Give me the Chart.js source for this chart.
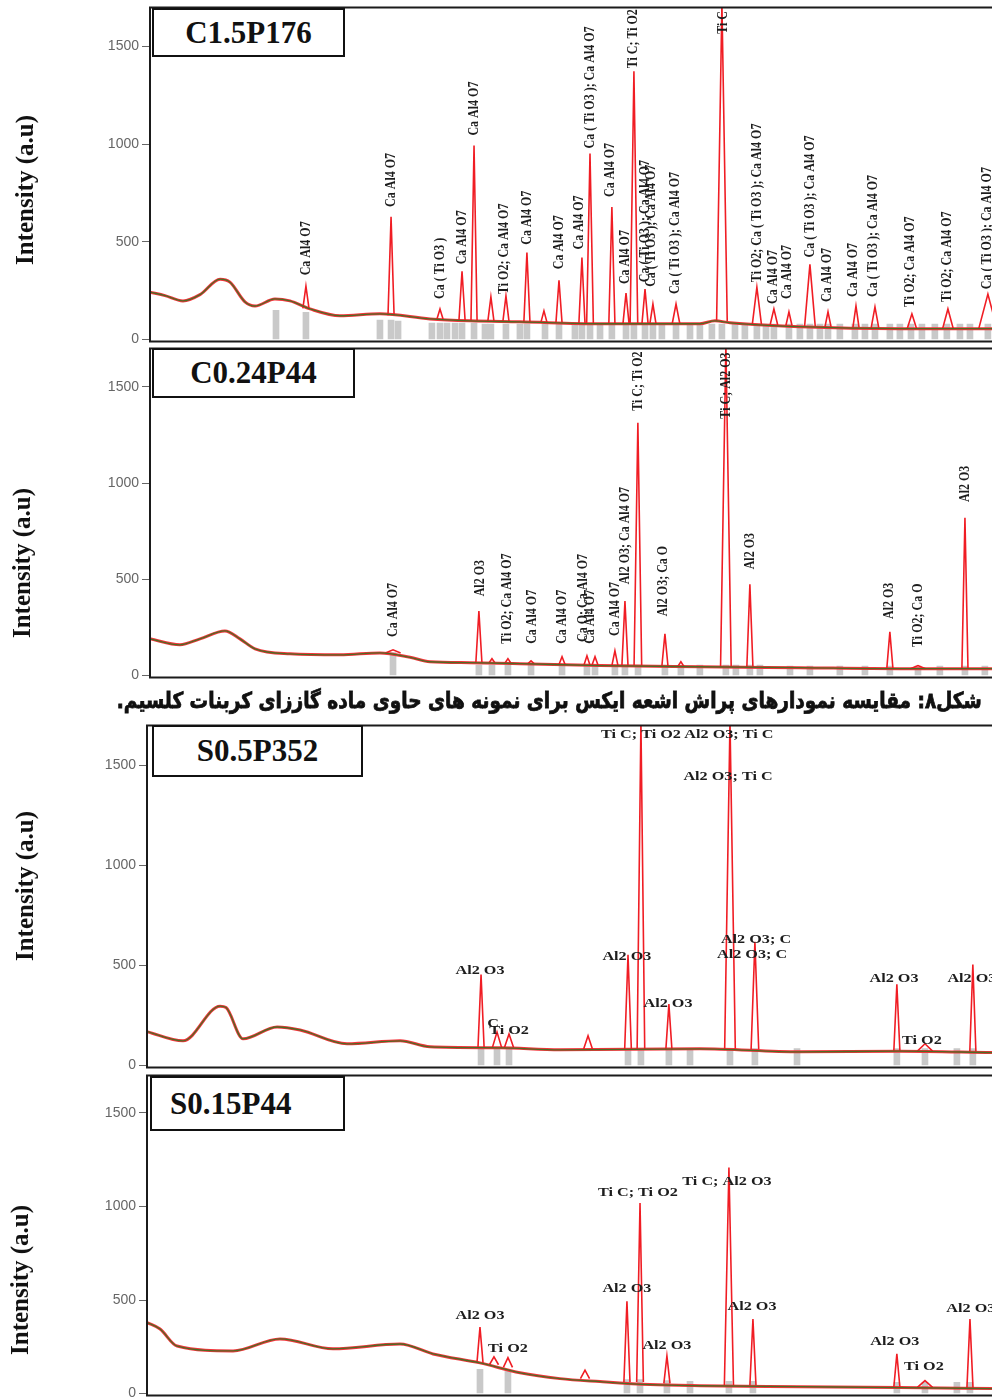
<!DOCTYPE html>
<html>
<head>
<meta charset="utf-8">
<script src="https://cdn.jsdelivr.net/npm/chart.js@4.4.1/dist/chart.umd.min.js"></script>
<style>
  body { margin: 0; background: #fff; width: 992px; height: 1397px; overflow: hidden; position: relative; }
  canvas { position: absolute; left: 0; }
  .yt { position: absolute; font: bold 25px "Liberation Serif"; color: #111; white-space: nowrap;
        transform: translate(-50%, -50%) rotate(-90deg); }
  .box { position: absolute; box-sizing: border-box; border: 2px solid #111; background: #fff;
         font: bold 31px "Liberation Serif"; color: #111; text-align: center; z-index: 2; }
  #cap { position: absolute; right: 10px; top: 688px; direction: rtl; white-space: nowrap;
         font: bold 22px "DejaVu Sans"; color: #111; -webkit-text-stroke: 0.8px #111;
         transform-origin: right center; }
</style>
</head>
<body>
<canvas id="p1" width="992" height="355" style="top:-4px"></canvas>
<canvas id="p2" width="992" height="350" style="top:337px"></canvas>
<canvas id="p3" width="992" height="363" style="top:714px"></canvas>
<canvas id="p4" width="992" height="341" style="top:1064px"></canvas>
<div id="cap">شکل۸: مقایسه نمودارهای پراش اشعه ایکس برای نمونه های حاوی ماده گاززای کربنات کلسیم.</div>
<script>
const yTicks = [0, 500, 1000, 1500];
const yMax = 1700;
const xMax = 59.0;
const panelTitles = ["C1.5P176", "C0.24P44", "S0.5P352", "S0.15P44"];
const yTitle = "Intensity (a.u)";

// C1.5P176
const p1BgX = [3.60, 4.59, 5.77, 6.89, 8.21, 8.86, 9.85, 10.51, 11.82, 12.81, 14.13, 16.10, 18.73, 22.02, 24.65, 27.94, 33.21, 39.78, 40.77, 41.76, 46.36, 52.94, 59.00];
const p1BgY = [243, 225, 198, 230, 309, 294, 193, 172, 208, 198, 157, 122, 132, 106, 96, 91, 81, 81, 96, 86, 66, 56, 56];
const p1PeakX = [13.86, 19.46, 22.68, 24.13, 24.92, 26.03, 27.02, 28.40, 29.52, 30.51, 32.02, 32.55, 33.99, 34.92, 35.44, 36.17, 36.69, 38.21, 41.23, 43.53, 44.65, 45.64, 47.02, 48.21, 50.05, 51.30, 53.73, 56.10, 58.73];
const p1PeakY = [274, 628, 157, 350, 993, 218, 223, 446, 147, 304, 420, 952, 679, 238, 1373, 258, 182, 182, 1720, 268, 157, 142, 385, 142, 172, 167, 132, 157, 233];
const p1PeakBase = [160, 125, 105, 100, 98, 95, 93, 90, 88, 87, 84, 84, 82, 82, 82, 82, 82, 81, 95, 78, 75, 72, 68, 65, 62, 60, 58, 56, 56];
const p1PeakHalf = [0.2, 0.2, 0.2, 0.2, 0.2, 0.2, 0.2, 0.2, 0.2, 0.2, 0.2, 0.22, 0.2, 0.2, 0.25, 0.2, 0.2, 0.25, 0.35, 0.3, 0.25, 0.2, 0.35, 0.2, 0.2, 0.25, 0.3, 0.35, 0.6];
const p1StickX = [11.89, 13.86, 18.73, 19.46, 19.92, 22.15, 22.68, 23.14, 23.67, 24.13, 24.92, 25.64, 26.03, 27.02, 27.94, 28.40, 29.59, 30.51, 31.56, 32.02, 32.55, 33.21, 33.99, 34.92, 35.44, 36.17, 36.69, 37.28, 38.21, 39.13, 39.78, 40.57, 41.23, 42.09, 42.74, 43.53, 44.13, 44.65, 45.64, 46.36, 47.02, 47.68, 48.21, 48.99, 49.98, 50.64, 51.30, 52.28, 52.94, 53.67, 54.39, 55.24, 56.03, 56.89, 57.55, 58.73];
const p1StickY = [150, 140, 100, 100, 95, 85, 85, 85, 85, 85, 85, 80, 80, 80, 80, 80, 80, 80, 80, 80, 80, 80, 80, 80, 80, 80, 80, 80, 80, 80, 80, 80, 80, 80, 80, 80, 80, 80, 80, 80, 80, 80, 80, 80, 80, 80, 80, 80, 80, 80, 80, 80, 80, 80, 80, 80];
const p1LabelX = [13.86, 19.46, 22.68, 24.13, 24.92, 26.89, 28.40, 30.51, 31.82, 32.55, 33.86, 34.85, 35.38, 36.17, 36.56, 38.14, 41.30, 43.53, 44.59, 45.51, 47.02, 48.14, 49.85, 51.17, 53.60, 56.03, 58.67];
const p1LabelY = [329, 679, 208, 385, 1044, 233, 486, 360, 461, 978, 730, 284, 1388, 294, 270, 233, 1565, 294, 182, 208, 420, 193, 218, 218, 167, 193, 258];
const p1LabelText = ["Ca Al4 O7", "Ca Al4 O7", "Ca ( Ti O3 )", "Ca Al4 O7", "Ca Al4 O7", "Ti O2; Ca Al4 O7", "Ca Al4 O7", "Ca Al4 O7", "Ca Al4 O7", "Ca ( Ti O3 ); Ca Al4 O7", "Ca Al4 O7", "Ca Al4 O7", "Ti C; Ti O2", "Ca ( Ti O3 ); Ca Al4 O7", "Ca ( Ti O3 ); Ca Al4 O7", "Ca ( Ti O3 ); Ca Al4 O7", "Ti C", "Ti O2; Ca ( Ti O3 ); Ca Al4 O7", "Ca Al4 O7", "Ca Al4 O7", "Ca ( Ti O3 ); Ca Al4 O7", "Ca Al4 O7", "Ca Al4 O7", "Ca ( Ti O3 ); Ca Al4 O7", "Ti O2; Ca Al4 O7", "Ti O2; Ca Al4 O7", "Ca ( Ti O3 ); Ca Al4 O7"];

// C0.24P44
const p2BgX = [3.60, 5.57, 6.89, 8.53, 9.52, 10.51, 12.81, 16.10, 18.73, 20.71, 22.02, 24.65, 27.94, 33.21, 39.78, 46.36, 52.94, 59.00];
const p2BgY = [191, 160, 191, 232, 191, 139, 113, 108, 118, 95, 72, 67, 62, 52, 46, 41, 36, 36];
const p2PeakX = [19.59, 25.24, 26.10, 27.15, 28.67, 30.71, 32.35, 32.88, 34.19, 34.85, 35.70, 37.48, 38.53, 41.49, 43.07, 52.28, 54.13, 57.22];
const p2PeakY = [134, 335, 88, 88, 77, 98, 103, 98, 129, 387, 1314, 217, 72, 1720, 474, 227, 52, 820];
const p2PeakBase = [118, 67, 66, 64, 62, 58, 54, 54, 52, 52, 52, 50, 48, 46, 45, 38, 36, 36];
const p2PeakHalf = [0.5, 0.2, 0.2, 0.2, 0.2, 0.2, 0.2, 0.2, 0.2, 0.2, 0.25, 0.2, 0.2, 0.35, 0.2, 0.2, 0.5, 0.2];
const p2StickX = [19.59, 25.24, 26.10, 27.15, 28.67, 30.71, 32.35, 32.88, 34.19, 34.85, 35.71, 37.48, 38.53, 39.78, 41.49, 42.15, 43.07, 43.73, 45.71, 47.02, 48.99, 50.64, 52.28, 54.13, 55.57, 57.22, 58.53];
const p2StickY = [120, 55, 55, 55, 55, 55, 55, 55, 55, 55, 55, 55, 55, 55, 55, 55, 55, 55, 50, 50, 50, 50, 50, 50, 50, 50, 50];
const p2LabelX = [19.59, 25.31, 27.09, 28.73, 30.71, 32.09, 32.55, 34.19, 34.85, 35.70, 37.35, 41.49, 43.07, 52.22, 54.13, 57.22];
const p2LabelY = [201, 412, 165, 165, 165, 175, 165, 206, 474, 1376, 309, 1335, 552, 294, 149, 902];
const p2LabelText = ["Ca Al4 O7", "Al2 O3", "Ti O2; Ca Al4 O7", "Ca Al4 O7", "Ca Al4 O7", "Ca O; Ca Al4 O7", "Ca Al4 O7", "Ca Al4 O7", "Al2 O3; Ca Al4 O7", "Ti C; Ti O2", "Al2 O3; Ca O", "Ti C; Al2 O3", "Al2 O3", "Al2 O3", "Ti O2; Ca O", "Al2 O3"];

// S0.5P352
const p3BgX = [3.40, 5.77, 8.21, 8.60, 9.72, 11.96, 13.47, 16.56, 20.05, 22.02, 26.63, 30.57, 39.78, 46.36, 52.94, 59.00];
const p3BgY = [170, 124, 297, 290, 134, 193, 178, 109, 124, 94, 89, 79, 84, 69, 72, 65];
const p3PeakX = [25.38, 26.43, 27.22, 32.42, 35.05, 35.90, 37.74, 41.76, 43.40, 52.74, 54.59, 57.74];
const p3PeakY = [455, 168, 158, 149, 554, 1720, 307, 1720, 619, 406, 109, 505];
const p3PeakBase = [92, 91, 90, 80, 80, 80, 80, 84, 82, 72, 72, 70];
const p3PeakHalf = [0.2, 0.3, 0.3, 0.3, 0.22, 0.25, 0.2, 0.35, 0.25, 0.2, 0.5, 0.2];
const p3StickX = [25.38, 26.43, 27.22, 35.05, 35.90, 37.74, 39.13, 41.76, 43.40, 46.17, 52.74, 54.59, 56.69, 57.74];
const p3StickY = [85, 85, 85, 85, 85, 85, 85, 85, 85, 85, 85, 85, 85, 85];
const p3LabelX = [25.31, 26.17, 27.22, 34.98, 35.90, 41.69, 41.63, 37.68, 43.47, 43.21, 52.55, 54.39, 57.68];
const p3LabelY = [475, 208, 173, 545, 1653, 1653, 1445, 307, 629, 554, 431, 124, 431];
const p3LabelText = ["Al2 O3", "C", "Ti O2", "Al2 O3", "Ti C; Ti O2", "Al2 O3; Ti C", "Al2 O3; Ti C", "Al2 O3", "Al2 O3; C", "Al2 O3; C", "Al2 O3", "Ti O2", "Al2 O3"];

// S0.15P44
const p4BgX = [3.40, 4.26, 5.38, 9.06, 12.15, 15.64, 20.05, 22.22, 25.31, 27.94, 30.57, 33.21, 36.49, 39.78, 46.36, 52.94, 59.00];
const p4BgY = [380, 345, 254, 228, 292, 239, 265, 212, 164, 111, 80, 64, 48, 42, 37, 32, 27];
const p4PeakX = [25.31, 26.23, 27.15, 32.22, 34.98, 35.84, 37.61, 41.69, 43.27, 52.74, 54.59, 57.55];
const p4PeakY = [355, 196, 192, 125, 493, 1018, 201, 1208, 398, 212, 69, 398];
const p4PeakBase = [164, 154, 140, 80, 62, 62, 55, 45, 44, 34, 33, 30];
const p4PeakHalf = [0.2, 0.3, 0.3, 0.3, 0.2, 0.22, 0.2, 0.3, 0.2, 0.2, 0.5, 0.2];
const p4StickX = [25.31, 27.15, 34.98, 35.84, 37.61, 39.13, 41.69, 43.27, 52.74, 54.59, 56.69, 57.55];
const p4StickY = [130, 120, 75, 75, 70, 65, 65, 65, 60, 60, 60, 60];
const p4LabelX = [25.31, 27.15, 34.98, 35.70, 41.56, 37.61, 43.21, 52.61, 54.52, 57.61];
const p4LabelY = [413, 239, 557, 1071, 1129, 254, 461, 276, 143, 451];
const p4LabelText = ["Al2 O3", "Ti O2", "Al2 O3", "Ti C; Ti O2", "Ti C; Al2 O3", "Al2 O3", "Al2 O3", "Al2 O3", "Ti O2", "Al2 O3"];

const framePlugin = {
  id: 'frame',
  afterDraw(chart) {
    const { ctx, chartArea: a } = chart;
    ctx.save();
    ctx.strokeStyle = '#1b1b1b';
    ctx.lineWidth = 2;
    ctx.beginPath();
    ctx.moveTo(a.right + 2, a.top);
    ctx.lineTo(a.left, a.top);
    ctx.lineTo(a.left, a.bottom + 2);
    ctx.lineTo(a.right + 2, a.bottom + 2);
    ctx.stroke();
    ctx.restore();
  }
};

const labelPlugin = {
  id: 'peakLabels',
  afterDatasetsDraw(chart, args, opts) {
    const { ctx, scales: { x, y } } = chart;
    ctx.save();
    ctx.fillStyle = '#1d1d1d';
    ctx.font = 'bold 12px "Liberation Serif"';
    ctx.textBaseline = 'middle';
    opts.text.forEach((t, i) => {
      ctx.save();
      ctx.translate(x.getPixelForValue(opts.x[i]), y.getPixelForValue(opts.y[i]));
      if (opts.rotate) {
        ctx.rotate(-Math.PI / 2);
        ctx.scale(1, 1.2);
        ctx.textAlign = 'left';
      } else {
        ctx.scale(1.35, 1);
        ctx.textAlign = 'center';
      }
      ctx.fillText(t, 0, 0);
      ctx.restore();
    });
    ctx.restore();
  }
};

function drawPanel(id, p) {
  const bg = () => p.bgX.map((x, i) => ({ x, y: p.bgY[i] }));
  const peaks = [];
  p.peakX.forEach((x, i) => {
    const h = p.peakHalf[i], b = p.peakBase[i];
    peaks.push({ x: x - h, y: b }, { x, y: p.peakY[i] }, { x: x + h, y: b }, { x: x + h, y: null });
  });
  const sticks = p.stickX.map((x, i) => ({ x, y: p.stickY[i] }));

  new Chart(document.getElementById(id), {
    type: 'line',
    data: {
      datasets: [
        { data: bg(), borderColor: '#4d6b24', borderWidth: 1.3, pointRadius: 0, cubicInterpolationMode: 'monotone', order: 0 },
        { data: peaks, borderColor: '#f01d24', borderWidth: 1.6, pointRadius: 0, tension: 0, order: 1 },
        { data: bg(), borderColor: '#f2353b', borderWidth: 3, pointRadius: 0, cubicInterpolationMode: 'monotone', order: 2 },
        { type: 'bar', data: sticks, backgroundColor: '#c9c9c9', barThickness: 6, order: 3 }
      ]
    },
    options: {
      responsive: false,
      animation: false,
      devicePixelRatio: 1,
      layout: { padding: { top: 10, bottom: 10, left: 0, right: 0 } },
      plugins: {
        legend: { display: false },
        tooltip: { enabled: false },
        peakLabels: { text: p.labelText, x: p.labelX, y: p.labelY, rotate: p.rotate }
      },
      scales: {
        x: { type: 'linear', min: p.xMin, max: xMax, offset: false, display: false },
        y: {
          min: 0,
          max: yMax,
          afterFit: s => { s.width = p.left; },
          afterBuildTicks: s => { s.ticks = yTicks.map(v => ({ value: v })); },
          grid: { drawOnChartArea: false, tickLength: 8, color: '#666' },
          border: { display: false },
          ticks: { color: '#666', padding: 3, font: { family: 'Liberation Sans', size: 14 }, callback: v => String(v) }
        }
      }
    },
    plugins: [framePlugin, labelPlugin]
  });
}

drawPanel('p1', { xMin: 3.60, left: 150, rotate: true,
  bgX: p1BgX, bgY: p1BgY, peakX: p1PeakX, peakY: p1PeakY, peakBase: p1PeakBase, peakHalf: p1PeakHalf,
  stickX: p1StickX, stickY: p1StickY, labelX: p1LabelX, labelY: p1LabelY, labelText: p1LabelText });
drawPanel('p2', { xMin: 3.60, left: 150, rotate: true,
  bgX: p2BgX, bgY: p2BgY, peakX: p2PeakX, peakY: p2PeakY, peakBase: p2PeakBase, peakHalf: p2PeakHalf,
  stickX: p2StickX, stickY: p2StickY, labelX: p2LabelX, labelY: p2LabelY, labelText: p2LabelText });
drawPanel('p3', { xMin: 3.40, left: 147, rotate: false,
  bgX: p3BgX, bgY: p3BgY, peakX: p3PeakX, peakY: p3PeakY, peakBase: p3PeakBase, peakHalf: p3PeakHalf,
  stickX: p3StickX, stickY: p3StickY, labelX: p3LabelX, labelY: p3LabelY, labelText: p3LabelText });
drawPanel('p4', { xMin: 3.40, left: 147, rotate: false,
  bgX: p4BgX, bgY: p4BgY, peakX: p4PeakX, peakY: p4PeakY, peakBase: p4PeakBase, peakHalf: p4PeakHalf,
  stickX: p4StickX, stickY: p4StickY, labelX: p4LabelX, labelY: p4LabelY, labelText: p4LabelText });

// title boxes and axis titles
const boxPos = [[152, 8, 193, 49], [152, 348, 203, 50], [152, 725, 211, 52], [150, 1076, 195, 55]];
const yTitlePos = [[25, 190], [22, 563], [25, 886], [20, 1280]];
panelTitles.forEach((t, i) => {
  const [l, tp, w, h] = boxPos[i];
  const b = document.createElement('div');
  b.className = 'box';
  b.textContent = t;
  b.style.cssText = `left:${l}px;top:${tp}px;width:${w}px;height:${h}px;line-height:${h - 4}px;` +
    (i === 3 ? 'text-align:left;padding-left:18px;' : '');
  document.body.appendChild(b);
  const yt = document.createElement('div');
  yt.className = 'yt';
  yt.textContent = yTitle;
  yt.style.left = yTitlePos[i][0] + 'px';
  yt.style.top = yTitlePos[i][1] + 'px';
  document.body.appendChild(yt);
});

const cap = document.getElementById('cap');
cap.style.transform = `scaleX(${865 / cap.getBoundingClientRect().width})`;
</script>
</body>
</html>
